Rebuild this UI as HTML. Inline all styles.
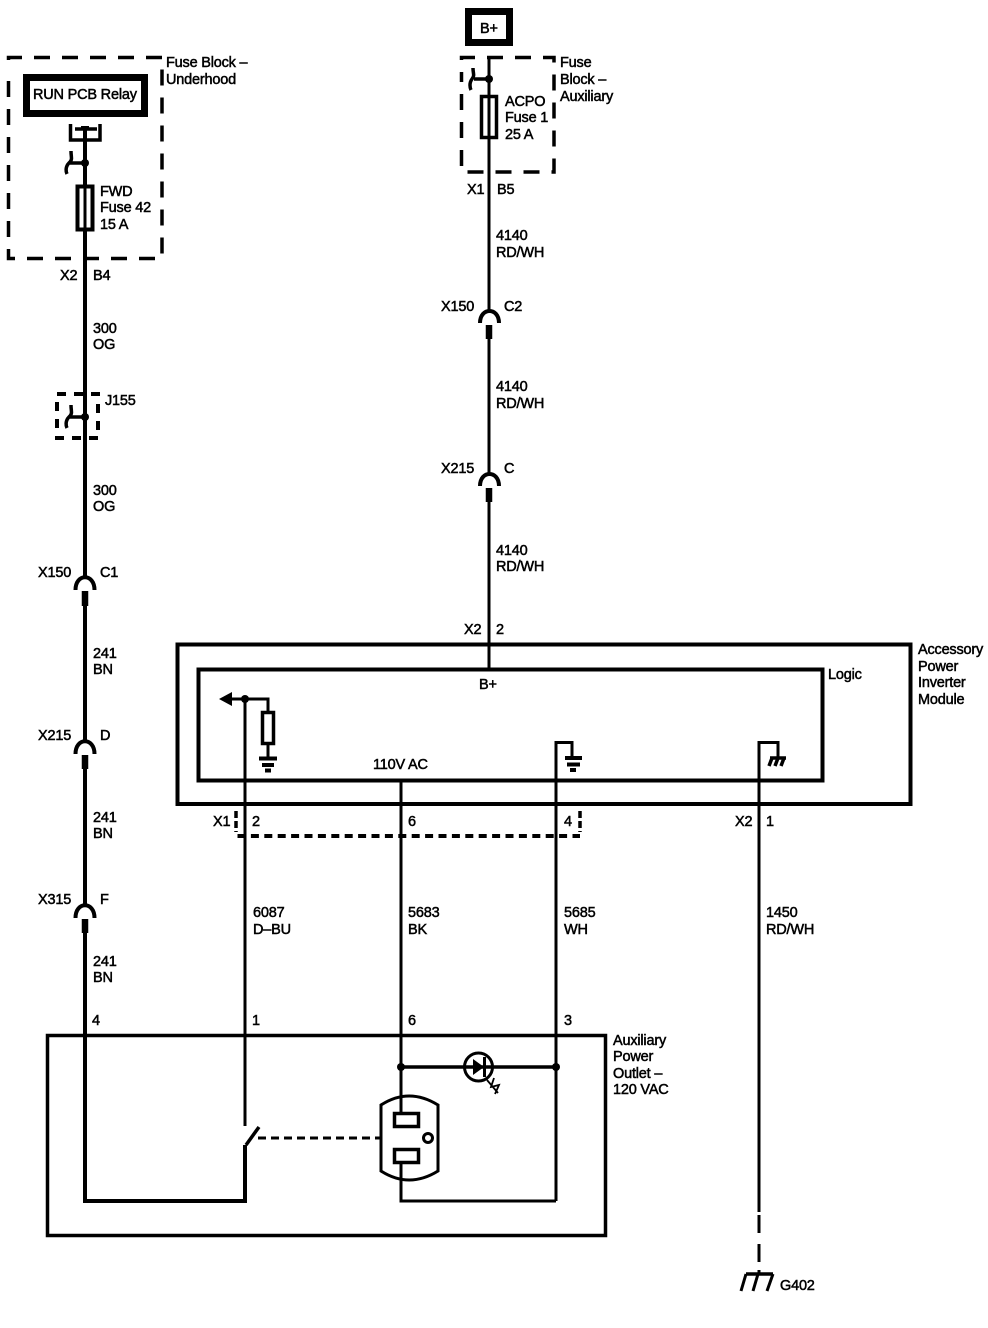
<!DOCTYPE html>
<html><head><meta charset="utf-8"><style>
html,body{margin:0;padding:0;background:#fff}
svg{display:block}
text{font-family:"Liberation Sans",sans-serif;font-size:14.5px;letter-spacing:-.2px;fill:#000;stroke:#000;stroke-width:.5px}
</style></head><body>
<svg width="988" height="1328" viewBox="0 0 988 1328" xmlns="http://www.w3.org/2000/svg">
<rect width="988" height="1328" fill="#fff" stroke="none"/>
<g fill="none" stroke="#000" stroke-width="3.500">
<!-- dashed boxes -->
<path d="M8.500 72V57.500H162V258.500H8.500V72" stroke-dasharray="16 12" stroke-dashoffset="16"/>
<path d="M461.500 72V57.500H554V172H461.500V72" stroke-dasharray="16 12" stroke-dashoffset="16"/>
<path d="M57 394H98V438H57Z" stroke-dasharray="9 8" stroke-width="4"/>
<path d="M237.500 836H580" stroke-width="4" stroke-dasharray="8 5.400"/>
<path d="M236 811V832M580 811V832" stroke-dasharray="7 3"/>
<!-- boxes -->
<rect x="26.500" y="77.500" width="118" height="36" stroke-width="7"/>
<rect x="468.500" y="11.500" width="41" height="31" stroke-width="7"/>
<rect x="177.500" y="644.500" width="733" height="159.500" stroke-width="4"/>
<rect x="198.500" y="669.500" width="624" height="111" stroke-width="4"/>
<rect x="47.500" y="1035.500" width="558" height="200" stroke-width="3.500"/>
<!-- left wire -->
<path d="M85 126V578M85 605V742M85 769V906M85 933V1201H245V1145" stroke-width="4"/>
<path d="M85 591V606M85 755V769M85 919V933" stroke-width="6.500"/>
<path d="M75.500 590C75.500 573 94.500 573 94.500 590M75.500 754C75.500 737 94.500 737 94.500 754M75.500 918C75.500 901 94.500 901 94.500 918" stroke-width="4"/>
<path d="M70.500 124V140H100V124M75 129H97"/>
<path d="M85 163H70M71 151C71 158 73 159 69 163C65 167 66 172 67 174" stroke-width="3.500"/>
<rect x="77.500" y="186.500" width="15" height="43" fill="#fff" stroke-width="4"/>
<path d="M85 186V230" stroke-width="3"/>
<path d="M85 394V438"/>
<path d="M85 417H70M71 405C71 412 73 413 69 417C65 421 66 426 67 428" stroke-width="3.500"/>
<!-- right wire -->
<path d="M489 56V312M489 339V475M489 502V668" stroke-width="3"/>
<path d="M489 325V339M489 488V502" stroke-width="6.500"/>
<path d="M480 323C480 307 499 307 499 323M480 486C480 470 499 470 499 486" stroke-width="4"/>
<path d="M489 79H474M473 68C473 74 475 75 472 79C469 83 470 88 471 90" stroke-width="3.500"/>
<rect x="481.500" y="96.500" width="15" height="41" fill="#fff" stroke-width="3.500"/>
<path d="M489 96V138" stroke-width="3"/>
<!-- module internals -->
<path d="M245 699V1126" stroke-width="3"/>
<path d="M230 699H268V712" stroke-width="3"/>
<rect x="262.500" y="712.500" width="11" height="31" fill="#fff"/>
<path d="M268 744V757" stroke-width="3"/>
<path d="M259 758.500H277M262 765H274M265 770.500H271" stroke-width="4"/>
<path d="M401 781V1112M401 1163V1201H556M556 1201V742.500H572V756" stroke-width="3"/>
<path d="M565 758H582M567 764.500H580M570 770H576" stroke-width="4"/>
<path d="M759 1212V742.500H778V757" stroke-width="3"/>
<path d="M770 758H786" stroke-width="3.500"/>
<path d="M772 758L769 766M778 758L775 766M784 758L781 766" stroke-width="3.500"/>
<path d="M759 1212V1270" stroke-dasharray="18 11" stroke-width="3" stroke-dashoffset="-3"/>
<!-- G402 -->
<path d="M746 1274H773" stroke-width="3.500"/>
<path d="M746 1274L741 1291M758 1274L753 1291M773 1274L767 1291M759 1270V1274" stroke-width="3"/>
<!-- outlet -->
<path d="M401 1067H556" stroke-width="3.500"/>
<circle cx="478.500" cy="1067" r="14" stroke-width="3"/>
<path d="M484.500 1057V1077" stroke-width="3"/>
<path d="M487 1080L498 1093M494 1078L491 1087L499 1085L495 1094" stroke-width="1.800"/>
<path d="M381 1105Q409 1087 438 1105V1171Q409 1189 381 1171Z" fill="none" stroke-width="3"/>
<rect x="394.500" y="1113.500" width="24" height="13" fill="#fff"/>
<rect x="394.500" y="1149.500" width="24" height="13" fill="#fff"/>
<circle cx="428" cy="1138" r="4.500" stroke-width="3"/>
<path d="M246 1145L259 1127"/>
<path d="M258 1138H380" stroke-dasharray="8 5" stroke-width="3"/>
</g>
<g fill="#000" stroke="none">
<circle cx="85" cy="163" r="4"/>
<circle cx="85" cy="417" r="4"/>
<circle cx="489" cy="79" r="4"/>
<circle cx="245" cy="699" r="4"/>
<circle cx="401" cy="1067" r="4"/>
<circle cx="556" cy="1067" r="4"/>
<path d="M219 699L232 692V706Z"/>
<path d="M473 1059L473 1075L484 1067Z"/>
<path d="M85 129m-4 -3h8v4h-8z"/>
</g>
<g>
<text x="33" y="99">RUN PCB Relay</text>
<text x="480" y="33">B+</text>
<text x="166" y="67">Fuse Block –</text>
<text x="166" y="84">Underhood</text>
<text x="100" y="196">FWD</text>
<text x="100" y="212">Fuse 42</text>
<text x="100" y="229">15 A</text>
<text x="60" y="280">X2</text>
<text x="93" y="280">B4</text>
<text x="93" y="333">300</text>
<text x="93" y="349">OG</text>
<text x="105" y="405">J155</text>
<text x="93" y="495">300</text>
<text x="93" y="511">OG</text>
<text x="38" y="577">X150</text>
<text x="100" y="577">C1</text>
<text x="93" y="658">241</text>
<text x="93" y="674">BN</text>
<text x="38" y="740">X215</text>
<text x="100" y="740">D</text>
<text x="93" y="822">241</text>
<text x="93" y="838">BN</text>
<text x="38" y="904">X315</text>
<text x="100" y="904">F</text>
<text x="93" y="966">241</text>
<text x="93" y="982">BN</text>
<text x="92" y="1025">4</text>
<text x="252" y="1025">1</text>
<text x="408" y="1025">6</text>
<text x="564" y="1025">3</text>
<text x="560" y="67">Fuse</text>
<text x="560" y="84">Block –</text>
<text x="560" y="101">Auxiliary</text>
<text x="505" y="106">ACPO</text>
<text x="505" y="122">Fuse 1</text>
<text x="505" y="139">25 A</text>
<text x="467" y="194">X1</text>
<text x="497" y="194">B5</text>
<text x="496" y="240">4140</text>
<text x="496" y="257">RD/WH</text>
<text x="441" y="311">X150</text>
<text x="504" y="311">C2</text>
<text x="496" y="391">4140</text>
<text x="496" y="408">RD/WH</text>
<text x="441" y="473">X215</text>
<text x="504" y="473">C</text>
<text x="496" y="555">4140</text>
<text x="496" y="571">RD/WH</text>
<text x="464" y="634">X2</text>
<text x="496" y="634">2</text>
<text x="479" y="689">B+</text>
<text x="373" y="769">110V AC</text>
<text x="828" y="679">Logic</text>
<text x="918" y="654">Accessory</text>
<text x="918" y="671">Power</text>
<text x="918" y="687">Inverter</text>
<text x="918" y="704">Module</text>
<text x="213" y="826">X1</text>
<text x="252" y="826">2</text>
<text x="408" y="826">6</text>
<text x="564" y="826">4</text>
<text x="735" y="826">X2</text>
<text x="766" y="826">1</text>
<text x="253" y="917">6087</text>
<text x="253" y="934">D–BU</text>
<text x="408" y="917">5683</text>
<text x="408" y="934">BK</text>
<text x="564" y="917">5685</text>
<text x="564" y="934">WH</text>
<text x="766" y="917">1450</text>
<text x="766" y="934">RD/WH</text>
<text x="613" y="1045">Auxiliary</text>
<text x="613" y="1061">Power</text>
<text x="613" y="1078">Outlet –</text>
<text x="613" y="1094">120 VAC</text>
<text x="780" y="1290">G402</text>
</g>
</svg>
</body></html>
